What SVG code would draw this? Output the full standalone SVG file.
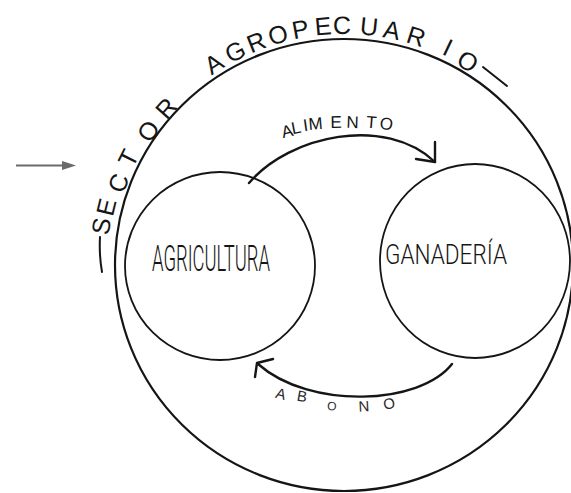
<svg xmlns="http://www.w3.org/2000/svg" width="571" height="493" viewBox="0 0 571 493">
<style>
.ln{fill:none;stroke:#151515;stroke-linecap:round;stroke-linejoin:round}
.t{font-family:"Liberation Sans",Arial,sans-serif;fill:#151515;text-anchor:middle}
.title{font-size:25px}
.alim{font-size:17px}
.abono{font-size:15px;fill:#2a2a2a}
.lbl{font-family:Roboto,"Liberation Sans",sans-serif;font-weight:300;fill:#151515}
</style>
<rect width="571" height="493" fill="#ffffff"/>

<g id="pointer">
  <line x1="16" y1="165.5" x2="64" y2="165.5" stroke="#6a6a6a" stroke-width="2"/>
  <polygon points="62,161 76,165.5 62,170" fill="#6a6a6a"/>
</g>

<g id="sector-agropecuario">
  <ellipse class="ln" cx="344" cy="265" rx="229" ry="226" stroke-width="2.2"/>
  <path class="ln" d="M100,237 Q99,255 102,272" stroke-width="2"/>
  <path class="ln" d="M483,67 L507,86" stroke-width="2"/>
  <g class="t title">
    <text transform="translate(101,226) rotate(-80.9)" y="9">S</text>
    <text transform="translate(106,207) rotate(-76.3)" y="9">E</text>
    <text transform="translate(118,183) rotate(-70.1)" y="9">C</text>
    <text transform="translate(128,158) rotate(-63.6)" y="9">T</text>
    <text transform="translate(148,131) rotate(-55.6)" y="9">O</text>
    <text transform="translate(166,108) rotate(-48.6)" y="9">R</text>
    <text transform="translate(213.6,63.5) rotate(-32.9)" y="9">A</text>
    <text transform="translate(235,51.2) rotate(-27)" y="9">G</text>
    <text transform="translate(256,41.7) rotate(-21.5)" y="9">R</text>
    <text transform="translate(277.9,34.3) rotate(-16)" y="9">O</text>
    <text transform="translate(300.3,29) rotate(-10.5)" y="9">P</text>
    <text transform="translate(323.1,25.9) rotate(-5)" y="9">E</text>
    <text transform="translate(341.9,25) rotate(-0.5)" y="9">C</text>
    <text transform="translate(369.1,26.3) rotate(6)" y="9">U</text>
    <text transform="translate(391.9,29.8) rotate(11.5)" y="9">A</text>
    <text transform="translate(416.2,36.1) rotate(17.5)" y="9">R</text>
    <text transform="translate(448,47) rotate(25.5)" y="9">I</text>
    <text transform="translate(468,61) rotate(31.3)" y="9">O</text>
  </g>
</g>

<g id="agricultura">
  <ellipse class="ln" cx="220" cy="266" rx="95" ry="94" stroke-width="1.8"/>
  <text class="lbl" x="152" y="271" font-size="36" textLength="118" lengthAdjust="spacingAndGlyphs">AGRICULTURA</text>
</g>

<g id="ganaderia">
  <ellipse class="ln" cx="475" cy="261" rx="95" ry="97" stroke-width="1.8"/>
  <text class="lbl" x="385" y="264" font-size="27" textLength="122" lengthAdjust="spacingAndGlyphs">GANADERÍA</text>
</g>

<g id="connectors">
  <g id="alimento">
    <path class="ln" d="M249,183 C290,135 385,115 435,162" stroke-width="2.4"/>
    <path class="ln" d="M435,142 L435,162 L416,159" stroke-width="2.4"/>
    <g class="t alim">
      <text transform="translate(287,131) rotate(-14)" y="6">A</text>
      <text transform="translate(296,127.5) rotate(-11)" y="6">L</text>
      <text transform="translate(305.5,125) rotate(-8)" y="6">I</text>
      <text transform="translate(315.5,123.5) rotate(-5)" y="6">M</text>
      <text transform="translate(336,122) rotate(-1)" y="6">E</text>
      <text transform="translate(352.5,122) rotate(2)" y="6">N</text>
      <text transform="translate(371.5,122) rotate(5)" y="6">T</text>
      <text transform="translate(386.5,123.5) rotate(9)" y="6">O</text>
    </g>
  </g>
  <g id="abono">
    <path class="ln" d="M452,364 C420,405 310,410 258,364" stroke-width="2.4"/>
    <path class="ln" d="M273,359 L257,363 L255,377" stroke-width="2.4"/>
    <g class="t abono">
      <text transform="translate(281,393.5) rotate(15)" y="5.4">A</text>
      <text transform="translate(302,396) rotate(10)" y="5.4">B</text>
      <text transform="translate(332,406) rotate(3)" y="4.3" font-size="12">O</text>
      <text transform="translate(364,406) rotate(-3)" y="5.4">N</text>
      <text transform="translate(389,403.5) rotate(-10)" y="5.4">O</text>
    </g>
  </g>
</g>
</svg>
